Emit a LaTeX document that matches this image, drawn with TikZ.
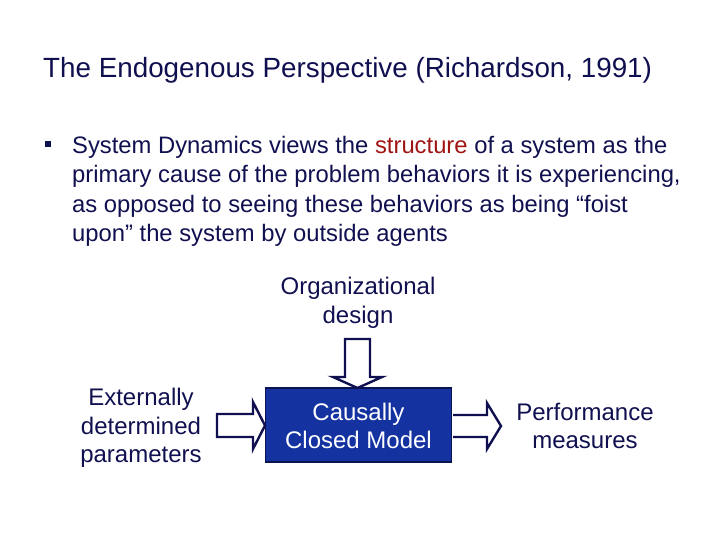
\documentclass[tikz,border=0pt]{standalone}
\usepackage{fontspec}
\setmainfont{Liberation Sans}
\definecolor{navy}{RGB}{16,16,80}
\definecolor{dred}{RGB}{160,20,20}
\definecolor{boxblue}{RGB}{20,50,160}
\definecolor{boxedge}{RGB}{10,20,80}
\begin{document}
\begin{tikzpicture}[x=1pt,y=-1pt,
  txt/.style={inner sep=0pt,text=navy,anchor=base west},
  lbl/.style={inner sep=0pt,text=navy,align=center,font=\fontsize{24}{28.7}\selectfont},
  fatarrow/.style={draw=navy,line width=2.4pt,fill=white,line join=miter}]
\useasboundingbox (0,0) rectangle (720,540);
\node[txt,font=\fontsize{27.8}{32}\selectfont] (title) at (43,78) {The Endogenous Perspective (Richardson, 1991)};
\fill[navy] (45,141) rectangle (51,147);
\begin{scope}[every node/.style={txt,font=\fontsize{23.8}{29}\selectfont}]
\node (l1) at (72,154) {System Dynamics views the \textcolor{dred}{structure} of a system as the};
\node (l2) at (72,183) {primary cause of the problem behaviors it is experiencing,};
\node (l3) at (72,212) {as opposed to seeing these behaviors as being “foist};
\node (l4) at (72,241) {upon” the system by outside agents};
\end{scope}
% box
\node[draw=boxedge,line width=1.5pt,fill=boxblue,minimum width=186pt,minimum height=74pt,inner sep=0pt] (box) at (358.5,425) {};
\node[lbl,text=white] (boxtxt) at (358.5,426) {Causally\\Closed Model};
\node[lbl] (org) at (358,303) {Organizational\\design};
\node[lbl] (ext) at (141,428) {Externally\\determined\\parameters};
\node[lbl] (perf) at (585,426) {Performance\\measures};
% arrows
\draw[fatarrow] (217,414) -- (253,414) -- (253,402) -- (265,425.5) -- (253,449) -- (253,437) -- (217,437) -- cycle;
\draw[fatarrow] (453,415) -- (487,415) -- (487,403) -- (501,426) -- (487,449) -- (487,437) -- (453,437);
\draw[fatarrow] (345,339) -- (370,339) -- (370,377) -- (382,377) -- (357.5,388) -- (333,377) -- (345,377) -- cycle;
\end{tikzpicture}
\end{document}
